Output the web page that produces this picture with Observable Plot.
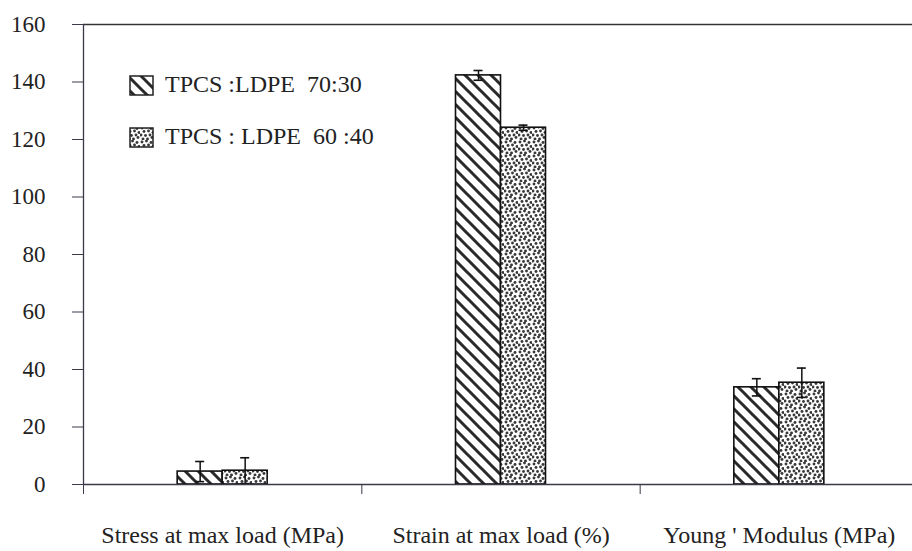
<!DOCTYPE html>
<html><head><meta charset="utf-8">
<script src="https://cdn.jsdelivr.net/npm/d3@7"></script>
<script src="https://cdn.jsdelivr.net/npm/@observablehq/plot@0.6"></script>
<style>
html,body{margin:0;padding:0;background:#fff;overflow:hidden;}
#chart{width:912px;height:551px;overflow:hidden;position:relative;}
#chart svg{max-width:none !important;}
</style></head><body><div id="chart"></div>
<script>
const categories = ["Stress at max load (MPa)", "Strain at max load (%)", "Young ' Modulus (MPa)"];
const series = ["TPCS :LDPE  70:30", "TPCS : LDPE  60 :40"];
const values7030 = [4.5, 142.3, 33.8];
const errors7030 = [3.5, 1.7, 3.0];
const values6040 = [4.8, 124.1, 35.4];
const errors6040 = [4.5, 0.9, 5.1];
const yTicks = [0, 20, 40, 60, 80, 100, 120, 140, 160];

const W = 918, H = 551, ML = 83, MT = 24, MB = 67;
const unitPx = (W - ML) / categories.length;
const barW = 45 / unitPx;
const capW = 4.5 / unitPx;
const FONT = "Liberation Serif";
const INK = "#222";

const rowsA = categories.map((c, i) => ({cat: c, v: values7030[i], e: errors7030[i], x1: i + 0.5 - barW, x2: i + 0.5}));
const rowsB = categories.map((c, i) => ({cat: c, v: values6040[i], e: errors6040[i], x1: i + 0.5, x2: i + 0.5 + barW}));
const rows = rowsA.concat(rowsB).map(r => ({...r, xc: (r.x1 + r.x2) / 2}));

const plot = Plot.plot({
  width: W, height: H,
  marginLeft: ML, marginRight: 0, marginTop: MT, marginBottom: MB,
  style: "background:white;max-width:none;",
  x: {domain: [0, categories.length], axis: null},
  y: {domain: [0, 160], axis: null},
  marks: [
    Plot.ruleY([160], {x1: 0, x2: categories.length, stroke: "#333", strokeWidth: 1.6}),
    Plot.rectY(rowsA, {x1: "x1", x2: "x2", y1: 0, y2: "v", fill: "url(#hatch)", stroke: "#111", strokeWidth: 1.6}),
    Plot.rectY(rowsB, {x1: "x1", x2: "x2", y1: 0, y2: "v", fill: "url(#dots)", stroke: "#111", strokeWidth: 1.6}),
    Plot.ruleX(rows, {x: "xc", y1: d => d.v - d.e, y2: d => d.v + d.e, stroke: "#111", strokeWidth: 1.5}),
    Plot.ruleY(rows, {y: d => d.v + d.e, x1: d => d.xc - capW, x2: d => d.xc + capW, stroke: "#111", strokeWidth: 1.6}),
    Plot.ruleY(rows, {y: d => d.v - d.e, x1: d => d.xc - capW, x2: d => d.xc + capW, stroke: "#111", strokeWidth: 1.6}),
    Plot.ruleX([0], {y1: 0, y2: 160, stroke: "#3a3a4a", strokeWidth: 1.3}),
    Plot.ruleY([0], {x1: 0, x2: categories.length, stroke: "#3a3a4a", strokeWidth: 1.3}),
    Plot.axisY({ticks: yTicks, label: null, tickSize: 11, tickPadding: 27, fontSize: 23, fontFamily: FONT, stroke: "#3a3a4a", fill: INK, tickFormat: d => String(d)}),
    Plot.axisX({ticks: d3.range(categories.length + 1), label: null, tickSize: 10, tickFormat: () => "", stroke: "#3a3a4a"}),
    Plot.axisX({ticks: categories.map((c, i) => i + 0.5), label: null, tickSize: 0, tickPadding: 41, fontSize: 24, fontFamily: FONT, fill: INK, tickFormat: d => categories[Math.floor(d)]})
  ]
});

const svg = d3.select(plot);
svg.attr("font-family", FONT);
const defs = svg.insert("defs", ":first-child");
const hatch = defs.append("pattern").attr("id", "hatch").attr("patternUnits", "userSpaceOnUse").attr("width", 13).attr("height", 13);
hatch.append("rect").attr("width", 13).attr("height", 13).attr("fill", "#fff");
hatch.append("path").attr("d", "M-1,-1L14,14M-1,12L1,14M12,-1L14,1").attr("stroke", "#2a2a2a").attr("stroke-width", 3).attr("fill", "none");
const dots = defs.append("pattern").attr("id", "dots").attr("patternUnits", "userSpaceOnUse").attr("width", 14).attr("height", 14);
dots.append("rect").attr("width", 14).attr("height", 14).attr("fill", "#fff");
const dotPos = [[2,2],[6.5,1],[11,2.5],[4,5.5],[8.5,5],[13,6.5],[1,9],[5.5,9.5],[10,9],[3,13],[7.5,13],[12,11.5]];
dotPos.forEach(([x, y]) => dots.append("circle").attr("cx", x).attr("cy", y).attr("r", 1.45).attr("fill", "#3a3a3a"));

const lg = svg.append("g").attr("font-family", FONT).attr("font-size", 24).attr("fill", INK).attr("text-anchor", "start");
series.forEach((s, i) => {
  const y0 = 76 + i * 52;
  lg.append("rect").attr("x", 130).attr("y", y0).attr("width", 23).attr("height", 19)
    .attr("fill", i ? "url(#dots)" : "url(#hatch)").attr("stroke", "#222").attr("stroke-width", 1.5);
  lg.append("text").attr("x", 165).attr("y", y0 + 16).attr("font-family", FONT).style("white-space", "pre").text(s);
});

document.getElementById("chart").appendChild(plot);
</script>
</body></html>
